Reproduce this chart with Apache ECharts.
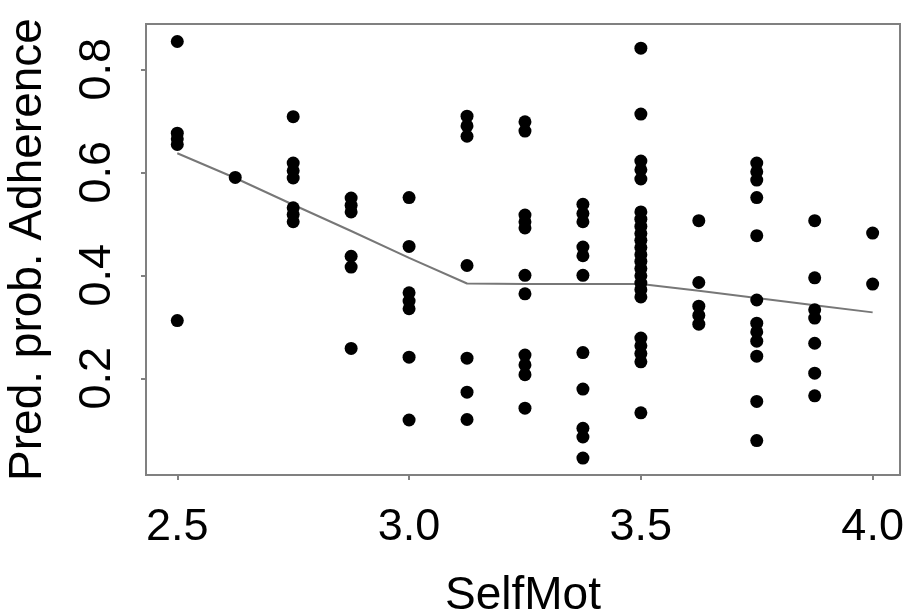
<!DOCTYPE html>
<html>
<head>
<meta charset="utf-8">
<script src="https://cdn.jsdelivr.net/npm/echarts@6/dist/echarts.min.js"></script>
<style>
  html, body { margin: 0; padding: 0; background: #fff; }
  #chart { width: 906px; height: 615px; }
</style>
</head>
<body>
<div id="chart"></div>
<script>
// SelfMot levels (x) and predicted probabilities
const selfMot = [2.5, 2.625, 2.75, 2.875, 3.0, 3.125, 3.25, 3.375, 3.5, 3.625, 3.75, 3.875, 4.0]

const predProb = [
  [0.854, 0.676, 0.665, 0.654, 0.312],
  [0.590],
  [0.708, 0.618, 0.603, 0.589, 0.531, 0.518, 0.504],
  [0.550, 0.536, 0.523, 0.437, 0.416, 0.258],
  [0.551, 0.456, 0.366, 0.350, 0.335, 0.241, 0.119],
  [0.709, 0.690, 0.670, 0.419, 0.239, 0.173, 0.120],
  [0.698, 0.680, 0.517, 0.504, 0.492, 0.400, 0.364, 0.245, 0.226, 0.207, 0.142],
  [0.538, 0.520, 0.504, 0.455, 0.438, 0.400, 0.250, 0.179, 0.103, 0.086, 0.045],
  [0.841, 0.713, 0.622, 0.605, 0.587, 0.523, 0.509, 0.495, 0.481, 0.468, 0.454, 0.440,
   0.427, 0.413, 0.399, 0.385, 0.372, 0.358, 0.278, 0.263, 0.248, 0.232, 0.133],
  [0.506, 0.386, 0.340, 0.322, 0.305],
  [0.618, 0.601, 0.585, 0.551, 0.477, 0.352, 0.307, 0.290, 0.272, 0.243, 0.155, 0.079],
  [0.506, 0.395, 0.333, 0.317, 0.268, 0.210, 0.166],
  [0.482, 0.383]
]

// fitted curve, one value per SelfMot level
const fitProb = [0.637, 0.589, 0.537, 0.486, 0.434, 0.384, 0.383, 0.383, 0.383, 0.370, 0.356, 0.342, 0.328]

const xTicks = [2.5, 3.0, 3.5, 4.0]
const yTicks = [0.2, 0.4, 0.6, 0.8]

const points = []
selfMot.forEach((x, i) => {
  predProb[i].forEach(y => points.push([x, y]))
})
const fitLine = selfMot.map((x, i) => [x, fitProb[i]])

const font = '"Liberation Sans", Arial, sans-serif'
const gray = '#808080'

const chart = echarts.init(document.getElementById('chart'))
chart.setOption({
  animation: false,
  grid: {
    left: 146, right: 6, top: 24, bottom: 140,
    outerBoundsMode: 'none',
    containLabel: false,
    show: true,
    borderColor: gray,
    borderWidth: 2,
    backgroundColor: '#fff'
  },
  xAxis: {
    type: 'value',
    min: 2.4325,
    max: 4.059,
    name: 'SelfMot',
    nameLocation: 'middle',
    nameGap: 98,
    nameTextStyle: { fontFamily: font, fontSize: 46, color: '#000' },
    splitLine: { show: false },
    axisLine: { show: false },
    axisTick: { show: true, customValues: xTicks, length: 5, lineStyle: { color: gray, width: 2 } },
    axisLabel: {
      customValues: xTicks,
      margin: 30,
      fontFamily: font, fontSize: 45, color: '#000',
      formatter: v => v.toFixed(1)
    }
  },
  yAxis: {
    type: 'value',
    min: 0.0122,
    max: 0.888,
    name: 'Pred. prob. Adherence',
    nameLocation: 'middle',
    nameRotate: 90,
    nameGap: 95,
    nameTextStyle: { fontFamily: font, fontSize: 46, color: '#000' },
    splitLine: { show: false },
    axisLine: { show: false },
    axisTick: { show: true, customValues: yTicks, length: 5, lineStyle: { color: gray, width: 2 } },
    axisLabel: {
      customValues: yTicks,
      rotate: 90,
      margin: 26,
      fontFamily: font, fontSize: 45, color: '#000',
      formatter: v => v.toFixed(1)
    }
  },
  series: [
    {
      name: 'fit',
      type: 'line',
      data: fitLine,
      showSymbol: false,
      lineStyle: { color: '#777', width: 2 },
      z: 2
    },
    {
      name: 'pred',
      type: 'scatter',
      data: points,
      symbol: 'circle',
      symbolSize: 13,
      itemStyle: { color: '#000', opacity: 1 },
      z: 3
    }
  ]
})
</script>
</body>
</html>
